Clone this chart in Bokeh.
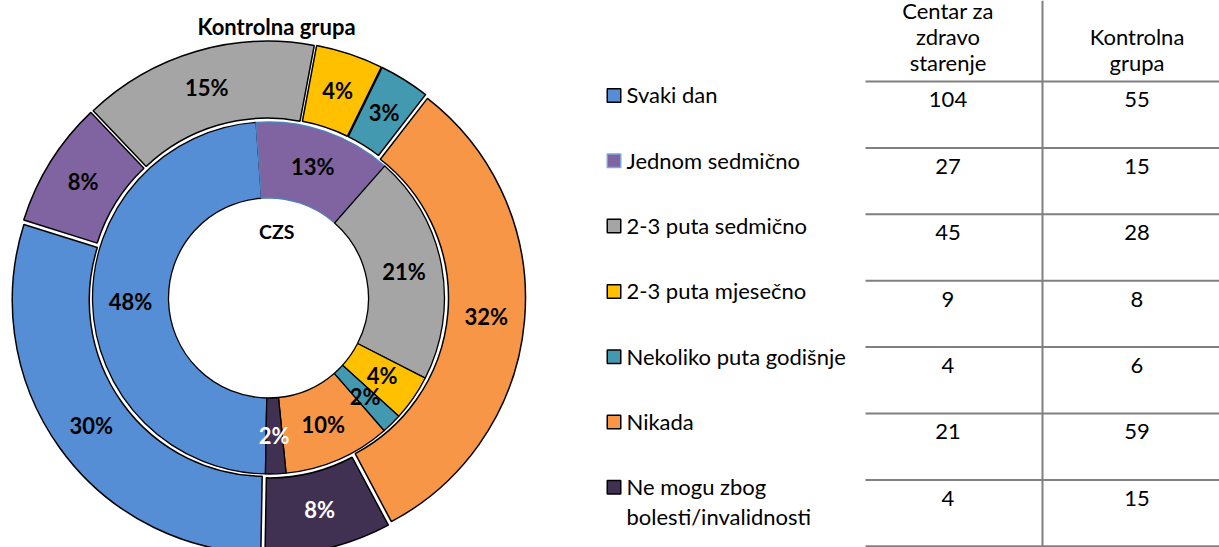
import math
import textwrap
import numpy as np
from bokeh.plotting import figure
from bokeh.models import Range1d
from bokeh.core.properties import value
from bokeh.embed import file_html
from bokeh.resources import INLINE

# ---------------- data ----------------
categories = ["Svaki dan", "Jednom sedmično", "2-3 puta sedmično", "2-3 puta mjesečno",
              "Nekoliko puta godišnje", "Nikada", "Ne mogu zbog bolesti/invalidnosti"]
czs_values = [104, 27, 45, 9, 4, 21, 4]
kontrolna_values = [55, 15, 28, 8, 6, 59, 15]
czs_labels = ["48%", "13%", "21%", "4%", "2%", "10%", "2%"]
kontrolna_labels = ["30%", "8%", "15%", "4%", "3%", "32%", "8%"]
col_headers = ["Centar za zdravo starenje", "Kontrolna grupa"]
outer_title = "Kontrolna grupa"
inner_title = "CZS"

# ---------------- styles ----------------
colors = ["#558ED5", "#8064A2", "#A5A5A5", "#FFC000", "#4399B0", "#F79646", "#403152"]
label_colors = ["black", "black", "black", "black", "black", "black", "white"]
inner_line_colors = ["black", "#4F81BD", "black", "black", "black", "black", "black"]
legend_line_colors = ["black", "#7BA7DE", "black", "black", "black", "black", "black"]
FONT = "Lato"

W_REF, H_REF = 1219, 547
def Y(ry):
    return H_REF - ry

def TY(center, f):
    # data y for an alphabetic-baseline text whose cap centre should sit at `center`
    return Y(center - 0.025 * f)

def BY(baseline, f):
    # data y for a text whose visible baseline should sit at `baseline`
    return Y(baseline - 0.385 * f)

CX, CY = 268.0, 297.5
START = 181.0
R_HOLE, R_MID, R_OUT = 100.0, 176.0, 253.0
EXPLODE = 4.0

p = figure(width=W_REF, height=H_REF, x_range=Range1d(0, W_REF), y_range=Range1d(0, H_REF),
           output_backend="svg", toolbar_location=None, min_border=0,
           x_axis_type=None, y_axis_type=None, outline_line_color=None,
           background_fill_color="white", border_fill_color="white")


def ring_geometry(vals):
    vals = np.asarray(vals, dtype=float)
    tot = vals.sum()
    cum = np.concatenate([[0.0], np.cumsum(vals)[:-1]])
    t1 = START + 360.0 * cum / tot
    t2 = t1 + 360.0 * vals / tot
    tm = (t1 + t2) / 2.0
    return t1, t2, tm


def to_bokeh(theta_deg):
    return np.radians(90.0 - np.asarray(theta_deg))


fs = 22
# outer ring (Kontrolna grupa), exploded
t1, t2, tm = ring_geometry(kontrolna_values)
ox = CX + EXPLODE * np.sin(np.radians(tm))
oy = Y(CY) + EXPLODE * np.cos(np.radians(tm))
p.annular_wedge(x=list(ox), y=list(oy), inner_radius=R_MID, outer_radius=R_OUT,
                start_angle=list(to_bokeh(t2)), end_angle=list(to_bokeh(t1)),
                direction="anticlock", fill_color=colors, line_color="black",
                line_width=1.5)
r_lab = (R_MID + R_OUT) / 2.0 + EXPLODE
lx = CX + r_lab * np.sin(np.radians(tm))
ly = CY - r_lab * np.cos(np.radians(tm))
p.text(x=list(lx), y=[TY(v, fs) for v in ly], text=kontrolna_labels,
       text_font=value(FONT), text_font_style="bold", text_font_size=f"{fs}px",
       text_align="center", text_baseline="alphabetic", text_color=label_colors)

# inner ring (CZS)
t1, t2, tm = ring_geometry(czs_values)
p.annular_wedge(x=CX, y=Y(CY), inner_radius=R_HOLE, outer_radius=R_MID,
                start_angle=list(to_bokeh(t2)), end_angle=list(to_bokeh(t1)),
                direction="anticlock", fill_color=colors, line_color=inner_line_colors,
                line_width=1.3)
r_lab = (R_HOLE + R_MID) / 2.0
lx = CX + r_lab * np.sin(np.radians(tm))
ly = CY - r_lab * np.cos(np.radians(tm))
p.text(x=list(lx), y=[TY(v, fs) for v in ly], text=czs_labels,
       text_font=value(FONT), text_font_style="bold", text_font_size=f"{fs}px",
       text_align="center", text_baseline="alphabetic", text_color=label_colors)

# titles
p.text(x=[276], y=[TY(27, 22)], text=[outer_title], text_font=value(FONT),
       text_font_style="bold", text_font_size="22px", text_align="center",
       text_baseline="alphabetic", text_color="black")
p.text(x=[276.3], y=[TY(231.7, 19.5)], text=[inner_title], text_font=value(FONT),
       text_font_style="bold", text_font_size="19.5px", text_align="center",
       text_baseline="alphabetic", text_color="black")

# legend
LEG_Y0, LEG_DY = 95.0, 65.3
TFS = 22
leg_cy = [LEG_Y0 + LEG_DY * i for i in range(len(categories))]
p.rect(x=[613.5] * len(categories), y=[Y(v) for v in leg_cy], width=13.5, height=13.5,
       fill_color=colors, line_color=legend_line_colors, line_width=1.5)
lt_x, lt_y, lt_text = [], [], []
for cyv, name in zip(leg_cy, categories):
    for k, line in enumerate(textwrap.wrap(name, 22)):
        lt_x.append(626)
        lt_y.append(TY(cyv + 30 * k, TFS))
        lt_text.append(line)
p.text(x=lt_x, y=lt_y, text=lt_text, text_font=value(FONT), text_font_size=f"{TFS}px",
       text_align="left", text_baseline="alphabetic", text_color="black")

# table
COL_X = [947.5, 1136.5]
ROW_Y0, ROW_DY = 100.0, 66.4
LINE_Y0 = 81.0
n = len(categories)
hx0, hx1 = 865, W_REF
p.segment(x0=[hx0] * (n + 1), x1=[hx1] * (n + 1),
          y0=[Y(LINE_Y0 + ROW_DY * i) for i in range(n + 1)],
          y1=[Y(LINE_Y0 + ROW_DY * i) for i in range(n + 1)],
          line_color="#808080", line_width=2)
p.segment(x0=[1042], x1=[1042], y0=[Y(0)], y1=[Y(H_REF)], line_color="#808080", line_width=2)

tx, ty, tt = [], [], []
for cx_, vals in zip(COL_X, [czs_values, kontrolna_values]):
    for i, v in enumerate(vals):
        tx.append(cx_)
        ty.append(TY(ROW_Y0 + ROW_DY * i, TFS))
        tt.append(str(v))
for cx_, head in zip(COL_X, col_headers):
    lines = textwrap.wrap(head, 10)
    for k, line in enumerate(lines):
        tx.append(cx_)
        ty.append(BY(70.0 - 26.0 * (len(lines) - 1 - k), TFS))
        tt.append(line)
p.text(x=tx, y=ty, text=tt, text_font=value(FONT), text_font_size=f"{TFS}px",
       text_align="center", text_baseline="alphabetic", text_color="black")

open("out.html", "w").write(file_html(p, INLINE))
